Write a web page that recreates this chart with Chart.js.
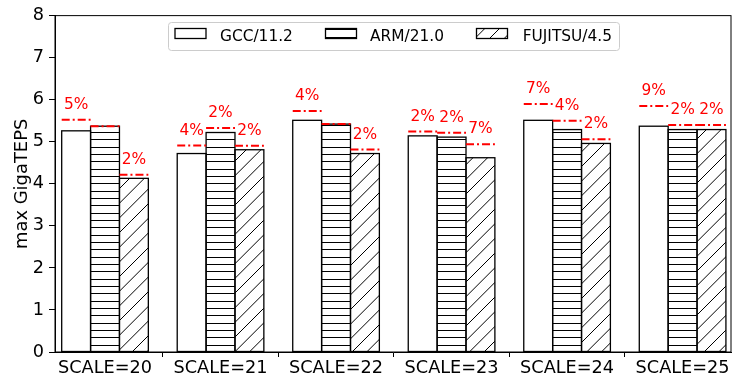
<!DOCTYPE html>
<html>
<head>
<meta charset="utf-8">
<script src="https://cdn.jsdelivr.net/npm/chart.js@4"></script>
<style>
html, body { margin: 0; padding: 0; background: #fff; }
#wrap { width: 733px; height: 376px; }
</style>
</head>
<body>
<div id="wrap"><canvas id="c" width="733" height="376"></canvas></div>
<script>
// Graph500 BFS throughput per problem scale and compiler
const categories = ['SCALE=20', 'SCALE=21', 'SCALE=22', 'SCALE=23', 'SCALE=24', 'SCALE=25'];
const seriesNames = ['GCC/11.2', 'ARM/21.0', 'FUJITSU/4.5'];

// mean GigaTEPS per scale
const gccMean = [5.26, 4.72, 5.51, 5.14, 5.51, 5.37];
const armMean = [5.37, 5.22, 5.42, 5.11, 5.29, 5.29];
const fujMean = [4.13, 4.81, 4.72, 4.62, 4.96, 5.29];

// gap from mean to best run, in percent (0 = no label)
const gccPct = [5, 4, 4, 2, 7, 9];
const armPct = [0, 2, 0, 2, 4, 2];
const fujPct = [2, 2, 2, 7, 2, 2];

const yTicks = [0, 1, 2, 3, 4, 5, 6, 7, 8];

const FONT = "'DejaVu Sans', 'Liberation Sans', sans-serif";
const RED = '#ff0000';

const ctx0 = document.getElementById('c').getContext('2d');

// hatch tiles: '-' horizontal lines, '/' diagonal lines
function pattern(kind) {
  const s = 44;
  const c = document.createElement('canvas');
  c.width = s; c.height = s;
  const g = c.getContext('2d');
  g.fillStyle = '#fff';
  g.fillRect(0, 0, s, s);
  g.strokeStyle = '#000';
  g.lineWidth = 1;
  g.beginPath();
  if (kind === '-') {
    for (let k = 0; k < 6; k++) {
      const y = Math.round(k * s / 6) + 0.5;
      g.moveTo(0, y); g.lineTo(s, y);
    }
  } else if (kind === '/') {
    for (let k = -3; k <= 3; k++) {
      const x0 = k * s / 3;
      g.moveTo(x0, s); g.lineTo(x0 + s, 0);
    }
  }
  g.stroke();
  return ctx0.createPattern(c, 'repeat');
}

const fills = ['#ffffff', pattern('-'), pattern('/')];
const means = [gccMean, armMean, fujMean];
const pcts = [gccPct, armPct, fujPct];

const datasets = seriesNames.map((name, d) => ({
  label: name,
  data: means[d].map((v, i) => ({ x: i, y: v })),
  backgroundColor: fills[d],
  borderWidth: 0,
  categoryPercentage: 0.75,
  barPercentage: 1.0
}));

const overlay = {
  id: 'overlay',
  afterDatasetsDraw(chart) {
    const { ctx, chartArea: a, scales: { y } } = chart;
    ctx.save();

    // bar outlines, stroked on the bar edges
    ctx.strokeStyle = '#000';
    ctx.lineWidth = 1.3;
    for (let d = 0; d < 3; d++) {
      chart.getDatasetMeta(d).data.forEach((el) => {
        ctx.strokeRect(el.x - el.width / 2, el.y, el.width, el.base - el.y);
      });
    }

    // full frame
    ctx.lineWidth = 1;
    ctx.strokeRect(a.left, a.top, a.right - a.left, a.bottom - a.top);

    // best-run markers and percentage labels
    ctx.font = '15.4px ' + FONT;
    ctx.textAlign = 'center';
    ctx.textBaseline = 'alphabetic';
    for (let d = 0; d < 3; d++) {
      const meta = chart.getDatasetMeta(d);
      meta.data.forEach((el, i) => {
        const best = means[d][i] * (1 + pcts[d][i] / 100);
        const py = y.getPixelForValue(best);
        ctx.strokeStyle = RED;
        ctx.lineWidth = 2;
        ctx.setLineDash([8, 3, 2, 3]);
        ctx.beginPath();
        ctx.moveTo(el.x - el.width / 2, py);
        ctx.lineTo(el.x + el.width / 2, py);
        ctx.stroke();
        ctx.setLineDash([]);
        if (pcts[d][i] > 0) {
          ctx.fillStyle = RED;
          ctx.fillText(pcts[d][i] + '%', el.x, py - 11);
        }
      });
    }

    // legend
    const bx = 168.5, by = 22.5, bw = 451, bh = 28;
    ctx.fillStyle = 'rgba(255,255,255,0.8)';
    ctx.strokeStyle = '#cccccc';
    ctx.lineWidth = 1;
    ctx.beginPath();
    ctx.roundRect(bx, by, bw, bh, 3);
    ctx.fill();
    ctx.stroke();
    const px = [175, 325.5, 476.5];
    const tx = [220, 370, 522.7];
    ctx.textAlign = 'left';
    ctx.font = '15.4px ' + FONT;
    for (let d = 0; d < 3; d++) {
      ctx.fillStyle = fills[d];
      ctx.fillRect(px[d], 28.5, 31, 10);
      ctx.strokeStyle = '#000';
      ctx.lineWidth = 1.3;
      ctx.strokeRect(px[d], 28.5, 31, 10);
      ctx.fillStyle = '#000';
      ctx.fillText(seriesNames[d], tx[d], 41);
    }
    ctx.restore();
  }
};

new Chart(document.getElementById('c'), {
  type: 'bar',
  data: { datasets },
  options: {
    responsive: false,
    animation: false,
    layout: { padding: { top: 15, right: 2, left: 0, bottom: 0 } },
    plugins: { legend: { display: false }, tooltip: { enabled: false } },
    scales: {
      x: {
        type: 'linear',
        min: -0.433,
        max: 5.419,
        offset: false,
        afterFit(scale) { scale.height = 24; },
        afterBuildTicks(scale) { scale.ticks = categories.map((_, i) => ({ value: i })); },
        ticks: {
          autoSkip: false,
          maxRotation: 0,
          padding: 1,
          color: '#000',
          font: { family: FONT, size: 17.7 },
          callback: (v) => categories[v]
        },
        grid: { display: true, drawOnChartArea: false, drawTicks: true, tickLength: 5, color: '#000', tickWidth: 1 },
        border: { display: true, color: '#000', width: 1 }
      },
      y: {
        min: 0,
        max: 8,
        afterFit(scale) { scale.width = 55; },
        afterBuildTicks(scale) { scale.ticks = yTicks.map(v => ({ value: v })); },
        ticks: {
          padding: 5,
          color: '#000',
          font: { family: FONT, size: 17.7 },
          callback: (v) => String(v)
        },
        title: {
          display: true,
          text: 'max GigaTEPS',
          color: '#000',
          font: { family: FONT, size: 17.9 },
          padding: { top: 12, bottom: 0 }
        },
        grid: { display: true, drawOnChartArea: false, drawTicks: true, tickLength: 6, color: '#000', tickWidth: 1 },
        border: { display: true, color: '#000', width: 1 }
      }
    }
  },
  plugins: [overlay]
});
</script>
</body>
</html>
